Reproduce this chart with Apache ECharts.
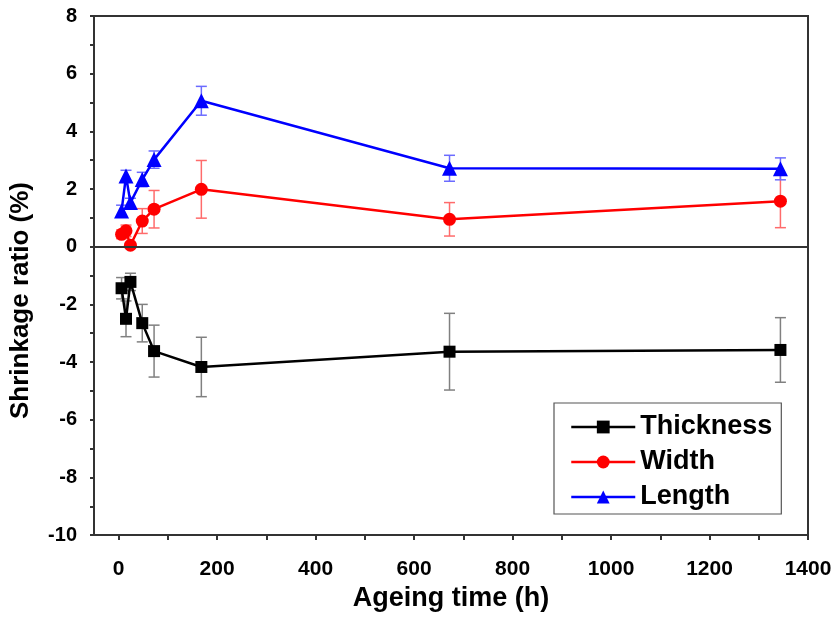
<!DOCTYPE html>
<html>
<head>
<meta charset="utf-8">
<title>Shrinkage ratio vs ageing time</title>
<script src="https://cdn.jsdelivr.net/npm/echarts@6/dist/echarts.min.js"></script>
<style>
  html, body { margin: 0; padding: 0; background: #fff; }
  #chart { width: 835px; height: 617px; }
</style>
</head>
<body>
<div id="chart"></div>
<script>
// Ageing times (h)
const hours = [6, 15, 24, 48, 72, 168, 672, 1344];

// Shrinkage ratio (%) and standard deviations for each dimension
const thickness    = [-1.44, -2.50, -1.22, -2.65, -3.62, -4.17, -3.64, -3.58];
const thicknessErr = [0.37, 0.62, 0.30, 0.65, 0.90, 1.03, 1.33, 1.12];
const width        = [0.43, 0.55, 0.05, 0.89, 1.30, 1.99, 0.95, 1.58];
const widthErr     = [0.15, 0.20, 0.10, 0.43, 0.65, 1.00, 0.58, 0.92];
const length       = [1.24, 2.45, 1.53, 2.33, 3.02, 5.06, 2.72, 2.70];
const lengthErr    = [0.20, 0.20, 0.15, 0.25, 0.30, 0.50, 0.45, 0.38];

// Axis ticks and labels
const xLabelValues = [0, 200, 400, 600, 800, 1000, 1200, 1400];
const xTickValues  = [0, 100, 200, 300, 400, 500, 600, 700, 800, 900, 1000, 1100, 1200, 1300, 1400];

const FONT = "'Liberation Sans', Arial, Helvetica, sans-serif";

const pairs = (ys) => hours.map((h, i) => [h, ys[i]]);
const bars = (ys, es) => hours.map((h, i) => [h, ys[i] - es[i], ys[i] + es[i]]);

function errorBars(color) {
  return function (params, api) {
    const x = api.value(0);
    const top = api.coord([x, api.value(2)]);
    const bot = api.coord([x, api.value(1)]);
    const w = 5.5;
    const style = { stroke: color, lineWidth: 1.5 };
    return {
      type: 'group',
      children: [
        { type: 'line', shape: { x1: top[0], y1: top[1], x2: bot[0], y2: bot[1] }, style },
        { type: 'line', shape: { x1: top[0] - w, y1: top[1], x2: top[0] + w, y2: top[1] }, style },
        { type: 'line', shape: { x1: bot[0] - w, y1: bot[1], x2: bot[0] + w, y2: bot[1] }, style }
      ]
    };
  };
}

function errSeries(name, data, color) {
  return {
    name: name,
    type: 'custom',
    renderItem: errorBars(color),
    data: data,
    encode: { x: 0, y: [1, 2] },
    z: 1,
    silent: true
  };
}

function lineSeries(name, data, color, symbol, size, extra) {
  return Object.assign({
    name: name,
    type: 'line',
    data: data,
    symbol: symbol,
    symbolSize: size,
    showAllSymbol: true,
    lineStyle: { color: color, width: 2.5 },
    itemStyle: { color: color },
    z: 3,
    animation: false
  }, extra || {});
}

const chart = echarts.init(document.getElementById('chart'), null, { renderer: 'canvas' });

chart.setOption({
  animation: false,
  backgroundColor: '#fff',
  grid: {
    left: 94, top: 16, right: 27, bottom: 80,
    show: true, borderColor: '#333', borderWidth: 2, backgroundColor: 'transparent'
  },
  legend: {
    data: ['Thickness', 'Width', 'Length'],
    orient: 'vertical',
    left: 554, top: 403,
    itemWidth: 64, itemHeight: 16,
    itemGap: 5,
    itemTextGap: 9,
    padding: [9, 9, 2, 16],
    borderColor: '#555', borderWidth: 1.2,
    lineStyle: { width: 2.5 },
    textStyle: { fontFamily: FONT, fontWeight: 'bold', fontSize: 27, color: '#000', lineHeight: 30 }
  },
  xAxis: {
    type: 'value',
    min: -50, max: 1400,
    name: 'Ageing time (h)',
    nameLocation: 'middle',
    nameGap: 47,
    nameTextStyle: { fontFamily: FONT, fontWeight: 'bold', fontSize: 27, color: '#000' },
    axisLine: { show: true, onZero: false, lineStyle: { color: '#333', width: 2 } },
    axisTick: { show: true, inside: false, length: 5, customValues: xTickValues, lineStyle: { color: '#333', width: 2 } },
    axisLabel: {
      customValues: xLabelValues, margin: 24,
      fontFamily: FONT, fontWeight: 'bold', fontSize: 21, color: '#000',
      formatter: (v) => String(v)
    },
    splitLine: { show: false }
  },
  yAxis: {
    type: 'value',
    min: -10, max: 8, interval: 1,
    name: 'Shrinkage ratio (%)',
    nameLocation: 'middle',
    nameGap: 60,
    nameTextStyle: {
      fontFamily: FONT, fontWeight: 'bold', fontSize: 26, color: '#000',
      padding: [0, 50, 0, 0]
    },
    axisLine: { show: true, onZero: false, lineStyle: { color: '#333', width: 2 } },
    axisTick: { show: true, inside: false, length: 4, lineStyle: { color: '#333', width: 2 } },
    axisLabel: {
      margin: 17, fontFamily: FONT, fontWeight: 'bold', fontSize: 20, color: '#000',
      formatter: (v) => (v % 2 === 0 ? String(v) : '')
    },
    splitLine: { show: false }
  },
  series: [
    errSeries('Thickness error', bars(thickness, thicknessErr), '#808080'),
    errSeries('Width error', bars(width, widthErr), '#ff6b6b'),
    errSeries('Length error', bars(length, lengthErr), '#6b6bff'),
    lineSeries('Thickness', pairs(thickness), '#000000', 'rect', 12, {
      markLine: {
        silent: true,
        symbol: 'none',
        label: { show: false },
        lineStyle: { color: '#333', width: 2, type: 'solid' },
        data: [{ yAxis: 0 }]
      }
    }),
    lineSeries('Width', pairs(width), '#ff0000', 'circle', 13),
    lineSeries('Length', pairs(length), '#0000ff', 'triangle', 15)
  ]
});
</script>
</body>
</html>
